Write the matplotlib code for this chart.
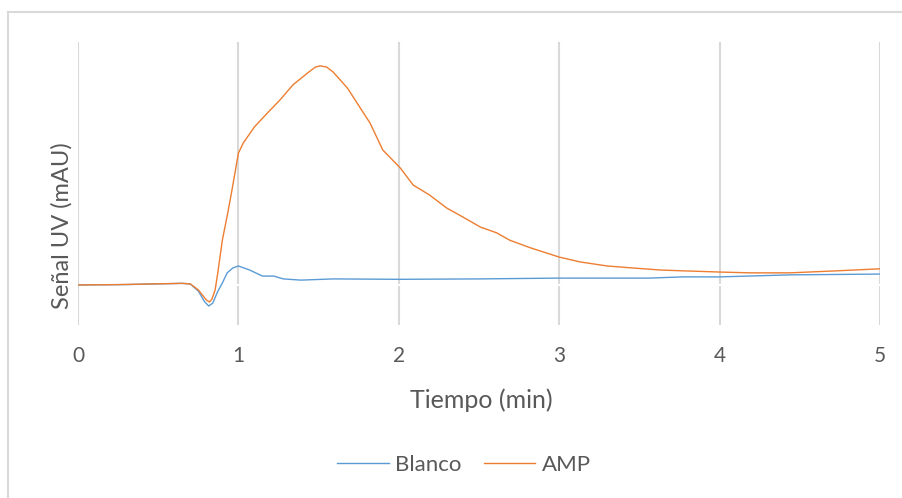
import matplotlib.pyplot as plt
from matplotlib.lines import Line2D

# Tiempo (min) / Señal UV (mAU)
t_amp = [0.00, 0.26, 0.45, 0.65, 0.70, 0.75, 0.80, 0.82, 0.835, 0.855, 0.87, 0.90,
         0.935, 0.96, 1.00, 1.03, 1.10, 1.18, 1.26, 1.34, 1.43, 1.48, 1.51, 1.55,
         1.59, 1.68, 1.74, 1.82, 1.90, 2.01, 2.09, 2.19, 2.30, 2.40, 2.51, 2.61,
         2.69, 2.82, 3.00, 3.13, 3.30, 3.46, 3.63, 3.77, 4.00, 4.19, 4.44, 4.73, 5.00]
amp = [-0.1, 0.0, 0.15, 0.3, 0.15, -1.3, -3.8, -4.3, -3.6, -1.3, 2.5, 11.0,
       18.0, 23.4, 32.5, 35.0, 39.0, 42.4, 45.7, 49.4, 52.3, 53.8, 54.1, 53.8,
       52.6, 48.6, 44.9, 40.0, 33.3, 28.8, 24.6, 22.2, 18.9, 16.7, 14.2, 12.8,
       11.0, 9.1, 6.8, 5.6, 4.6, 4.1, 3.6, 3.4, 3.1, 2.9, 2.9, 3.4, 3.9]

t_blanco = [0.00, 0.30, 0.65, 0.70, 0.75, 0.79, 0.815, 0.84, 0.87, 0.90, 0.93,
            0.965, 1.00, 1.07, 1.15, 1.22, 1.28, 1.39, 1.59, 2.00, 2.50, 3.00,
            3.56, 3.77, 4.00, 4.44, 5.00]
blanco = [-0.1, 0.0, 0.3, 0.15, -1.6, -4.3, -5.3, -4.6, -1.8, 0.4, 2.9,
          4.1, 4.6, 3.6, 2.1, 2.1, 1.4, 1.1, 1.4, 1.3, 1.4, 1.6,
          1.6, 1.9, 1.9, 2.4, 2.6]

x_ticks = [0, 1, 2, 3, 4, 5]

BLUE = "#5B9BD5"
ORANGE = "#ED7D31"
GRID = "#D9D9D9"
TXT = "#595959"

plt.rcParams['font.family'] = ['Lato', 'DejaVu Sans']

fig = plt.figure(figsize=(9.03, 4.98), dpi=100)
ax = fig.add_axes([78 / 903, 1 - 325 / 498, (880 - 78) / 903, (325 - 42) / 498])

for x in x_ticks:
    ax.axvline(x, color=GRID, linewidth=1.5, zorder=1)
ax.axhline(0, color="white", linewidth=1.5, zorder=1.5)

ax.plot(t_blanco, blanco, color=BLUE, linewidth=1.0, zorder=3)
ax.plot(t_amp, amp, color=ORANGE, linewidth=1.0, zorder=4)

ax.set_xlim(0, 5)
ax.set_ylim(-10, 60)
ax.set_xticks(x_ticks)
ax.set_yticks([])
ax.tick_params(axis="x", length=0, pad=15, labelsize=15, labelcolor=TXT)
for s in ax.spines.values():
    s.set_visible(False)

fig.text(481 / 903, 1 - 400 / 498, "Tiempo (min)", ha="center", va="center",
         fontsize=18, color=TXT)
fig.text(62 / 903, 1 - 226 / 498, "Señal UV (mAU)", ha="center", va="center",
         rotation=90, fontsize=17, color=TXT)

handles = [Line2D([], [], color=BLUE, linewidth=1.0),
           Line2D([], [], color=ORANGE, linewidth=1.0)]
fig.legend(handles, ["Blanco", "AMP"], loc="center", ncol=2,
           bbox_to_anchor=(464 / 903, 1 - 465 / 498), frameon=False,
           fontsize=16, labelcolor=TXT, handlelength=2.3, columnspacing=1.0,
           handletextpad=0.3)

# chart border (only left and top edges fall inside the picture)
fig.add_artist(Line2D([8 / 903, 8 / 903], [0, 1 - 12 / 498], color=GRID, linewidth=1.5))
fig.add_artist(Line2D([8 / 903, 1], [1 - 12 / 498, 1 - 12 / 498], color=GRID, linewidth=1.5))

fig.savefig("out.png", dpi=100)
